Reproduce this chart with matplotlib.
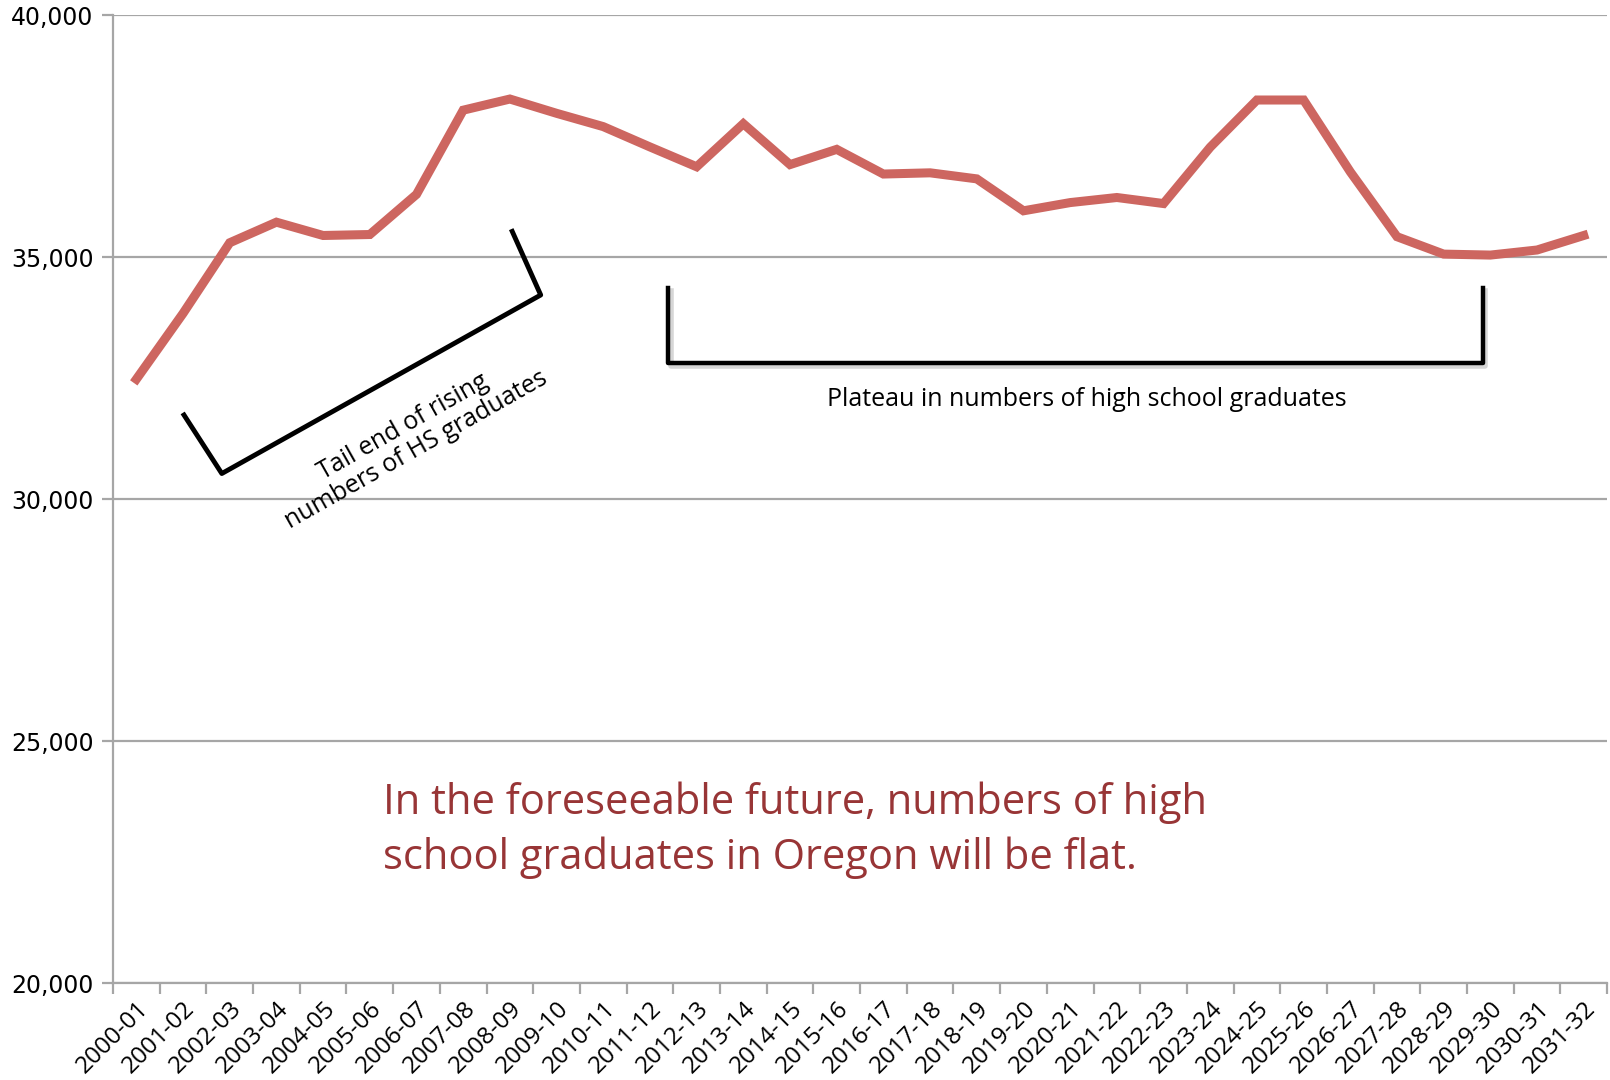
import numpy as np
import matplotlib
matplotlib.use("Agg")
import matplotlib.pyplot as plt
from matplotlib.ticker import FuncFormatter, FixedLocator

# 年度與高中畢業生人數 (Oregon)
years = ["2000-01", "2001-02", "2002-03", "2003-04", "2004-05", "2005-06",
         "2006-07", "2007-08", "2008-09", "2009-10", "2010-11", "2011-12",
         "2012-13", "2013-14", "2014-15", "2015-16", "2016-17", "2017-18",
         "2018-19", "2019-20", "2020-21", "2021-22", "2022-23", "2023-24",
         "2024-25", "2025-26", "2026-27", "2027-28", "2028-29", "2029-30",
         "2030-31", "2031-32"]
graduates = [32480, 33840, 35300, 35725, 35450, 35470, 36300, 38040, 38270,
             37975, 37700, 37280, 36870, 37760, 36915, 37230, 36720, 36745,
             36620, 35960, 36130, 36235, 36110, 37275, 38250, 38250, 36765,
             35425, 35065, 35045, 35150, 35450]

note_rising = "Tail end of rising\nnumbers of HS graduates"
note_plateau = "Plateau in numbers of high school graduates"
note_main = "In the foreseeable future, numbers of high\nschool graduates in Oregon will be flat."

grid_col = "#A6A6A6"
line_col = "#CD6660"
text_red = "#983536"

fig = plt.figure(figsize=(16.1, 10.8), dpi=100)
ax = fig.add_axes([0.0702, 0.0898, 0.928, 0.896])

x = np.arange(len(years))
ax.plot(x, graduates, color=line_col, linewidth=6.5, solid_joinstyle="miter", zorder=3)

ax.set_xlim(-0.5, len(years) - 0.5)
ax.set_ylim(20000, 40000)
ax.set_yticks([20000, 25000, 30000, 35000, 40000])
ax.yaxis.set_major_formatter(FuncFormatter(lambda v, p: f"{int(v):,}"))
ax.grid(axis="y", color=grid_col, linewidth=1.6, zorder=0)

ax.set_xticks(x)
ax.set_xticklabels(years, rotation=45, ha="right", rotation_mode="anchor",
                   fontsize=17.5, family="Open Sans")
ax.xaxis.set_minor_locator(FixedLocator(np.arange(-0.5, len(years), 1.0)))
ax.tick_params(axis="x", which="major", length=0, pad=10)
ax.tick_params(axis="x", which="minor", length=8, width=1.6, color=grid_col)
ax.tick_params(axis="y", length=8, width=1.6, color=grid_col, labelsize=17, pad=6)

for s in ["top", "right"]:
    ax.spines[s].set_visible(False)
for s in ["left", "bottom"]:
    ax.spines[s].set_color(grid_col)
    ax.spines[s].set_linewidth(1.6)

# 上升尾段的括號
bx = [1.02, 1.83, 8.66, 8.05]
by = [31740, 30530, 34220, 35535]
ax.plot(bx, by, color="black", linewidth=3.5, solid_joinstyle="round", zorder=4)
ax.text(5.85, 31250, note_rising, rotation=29.5, ha="center", va="center",
        fontsize=18, family="Open Sans", linespacing=1.1, zorder=4)

# 平台期括號
px = [11.39, 11.39, 28.84, 28.84]
py = [34370, 32820, 32820, 34370]
ax.plot([v + 0.05 for v in px], [v - 70 for v in py], color="#BBBBBB",
        linewidth=4, alpha=0.6, zorder=3)
ax.plot(px, py, color="black", linewidth=3.2, zorder=4)
ax.text(20.35, 32050, note_plateau, ha="center", va="center",
        fontsize=18, family="Open Sans", zorder=4)

ax.text(5.28, 23160, note_main, ha="left", va="center", color=text_red,
        fontsize=30, family="Open Sans", linespacing=1.37, zorder=4)

fig.savefig("out.png", dpi=100)
